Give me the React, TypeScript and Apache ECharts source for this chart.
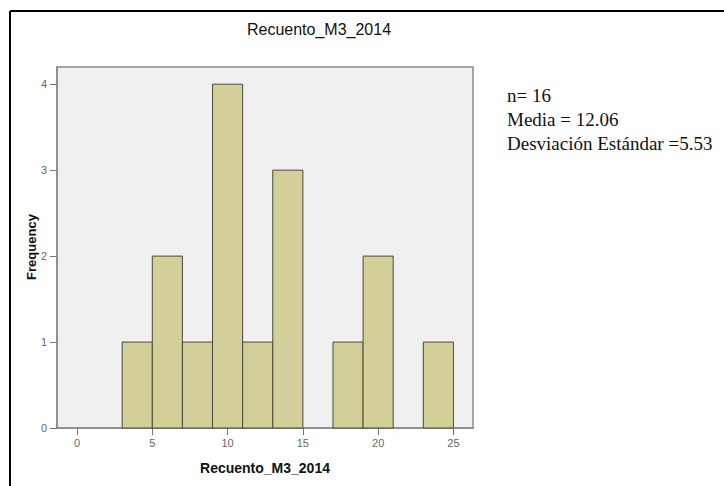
import React, { useEffect, useRef } from "react";
import * as echarts from "echarts";

const binEdges = [3, 5, 7, 9, 11, 13, 15, 17, 19, 21, 23, 25];
const counts = [1, 2, 1, 4, 1, 3, 0, 1, 2, 0, 1];
const xTicks = [0, 5, 10, 15, 20, 25];
const yTicks = [0, 1, 2, 3, 4];
const titleText = "Recuento_M3_2014";
const xTitle = "Recuento_M3_2014";
const yTitle = "Frequency";
const statsLines = ["n= 16", "Media = 12.06", "Desviación Estándar =5.53"];

export default function App() {
  const ref = useRef<HTMLDivElement>(null);
  useEffect(() => {
    if (!ref.current) return;
    const chart = echarts.init(ref.current, undefined, { renderer: "svg" });
    const data = counts.map((c, i) => [binEdges[i], binEdges[i + 1], c]);
    chart.setOption({
      animation: false,
      backgroundColor: "#ffffff",
      title: {
        text: titleText,
        left: 314,
        top: 16,
        textAlign: "center",
        textStyle: {
          fontFamily: "Liberation Sans",
          fontSize: 16,
          fontWeight: "normal",
          color: "#111",
        },
      },
      grid: {
        left: 57,
        top: 67,
        right: 251,
        bottom: 58,
        show: true,
        backgroundColor: "#f0f0f0",
        borderColor: "#8a8a8a",
        borderWidth: 1.5,
      },
      xAxis: {
        type: "value",
        min: -1.33,
        max: 26.3,
        name: xTitle,
        nameLocation: "middle",
        nameGap: 33,
        nameTextStyle: {
          fontFamily: "Liberation Sans",
          fontSize: 14,
          fontWeight: "bold",
          color: "#111",
        },
        splitLine: { show: false },
        axisLine: { show: true, onZero: false, lineStyle: { color: "#8a8a8a", width: 1.5 } },
        axisTick: {
          show: true,
          customValues: xTicks,
          length: 7,
          lineStyle: { color: "#777", width: 1 },
        },
        axisLabel: {
          customValues: xTicks,
          fontFamily: "Liberation Sans",
          fontSize: 11,
          color: "#666",
          margin: 9,
        },
      },
      yAxis: {
        type: "value",
        min: 0,
        max: 4.2,
        splitLine: { show: false },
        axisLine: { show: true, onZero: false, lineStyle: { color: "#8a8a8a", width: 1.5 } },
        axisTick: {
          show: true,
          customValues: yTicks,
          length: 7,
          lineStyle: { color: "#777", width: 1 },
        },
        axisLabel: {
          customValues: yTicks,
          fontFamily: "Liberation Sans",
          fontSize: 11,
          color: "#666",
          margin: 10,
        },
      },
      series: [
        {
          type: "custom",
          data,
          encode: { x: [0, 1], y: 2 },
          renderItem: (params: any, api: any) => {
            const c = api.value(2);
            if (!c) return null;
            const p0 = api.coord([api.value(0), c]);
            const p1 = api.coord([api.value(1), 0]);
            return {
              type: "rect",
              shape: { x: p0[0], y: p0[1], width: p1[0] - p0[0], height: p1[1] - p0[1] },
              style: { fill: "#d3cf98", stroke: "#4a4a3a", lineWidth: 1 },
            };
          },
        },
      ],
      graphic: [
        {
          type: "line",
          shape: { x1: 10, y1: 11, x2: 724, y2: 11 },
          style: { stroke: "#000", lineWidth: 2 },
        },
        {
          type: "line",
          shape: { x1: 10, y1: 11, x2: 10, y2: 486 },
          style: { stroke: "#000", lineWidth: 2 },
        },
        {
          type: "text",
          x: 31,
          y: 247,
          rotation: Math.PI / 2,
          style: {
            text: yTitle,
            font: "bold 13px 'Liberation Sans'",
            fill: "#111",
            textAlign: "center",
            textVerticalAlign: "middle",
          },
        },
        ...statsLines.map((t, i) => ({
          type: "text",
          left: 507,
          top: 86 + i * 24,
          style: {
            text: t,
            font: "19px 'Liberation Serif'",
            fill: "#111",
          },
        })),
      ],
    });
    return () => chart.dispose();
  }, []);
  return (
    <div
      ref={ref}
      style={{ position: "fixed", left: 0, top: 0, width: 724, height: 486 }}
    />
  );
}
